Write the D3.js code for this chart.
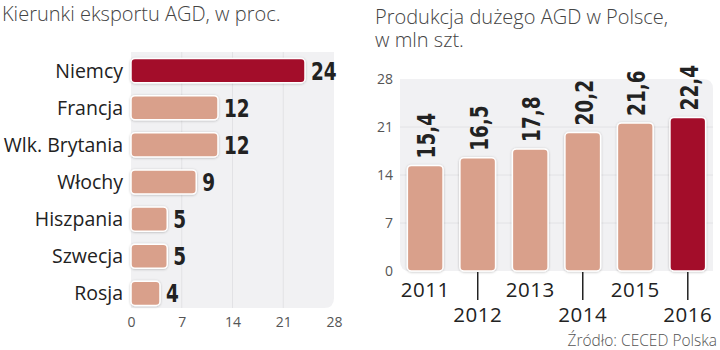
<!DOCTYPE html>
<html><head><meta charset="utf-8">
<script src="https://cdn.jsdelivr.net/npm/d3@7"></script>
<style>
body{margin:0;background:#fff;}
svg{display:block;}
</style></head>
<body>
<svg id="c" width="720" height="350"></svg>
<script>
// ---- data ----
const exportCountries = ["Niemcy","Francja","Wlk. Brytania","Włochy","Hiszpania","Szwecja","Rosja"];
const exportShares = [24,12,12,9,5,5,4];
const exportTicks = [0,7,14,21,28];
const prodYears = ["2011","2012","2013","2014","2015","2016"];
const prodValues = [15.4,16.5,17.8,20.2,21.6,22.4];
const prodLabels = ["15,4","16,5","17,8","20,2","21,6","22,4"];
const prodTicks = [0,7,14,21,28];
const leftTitle = "Kierunki eksportu AGD, w proc.";
const rightTitle = ["Produkcja dużego AGD w Polsce,","w mln szt."];
const sourceText = "Źródło: CECED Polska";

const svg = d3.select("#c");
const RED = "#a30e2b", SAL = "#d9a08b", BG = "#f1f1f3", GRID = "#e2e2e5";
const FONT = "'Open Sans', 'Noto Sans', sans-serif";
const NUMF = "'DejaVu Sans Condensed', 'Liberation Sans Narrow', sans-serif";
const NS = 0.82; // horizontal squeeze for the condensed number font

const defs = svg.append("defs");
const f = defs.append("filter").attr("id","sh").attr("x","-20%").attr("y","-20%").attr("width","140%").attr("height","140%");
f.append("feDropShadow").attr("dx",0).attr("dy",0.5).attr("stdDeviation",1).attr("flood-color","#000").attr("flood-opacity",0.25);

// ---- left chart ----
const x = d3.scaleLinear().domain([0,28]).range([131,334]);
const y = d3.scaleBand().domain(exportCountries).range([52,312]).paddingInner(0.35).paddingOuter(0.175);
const L = svg.append("g");
L.append("text").attr("x",2).attr("y",21).text(leftTitle)
  .attr("font-family",FONT).attr("font-weight",300).attr("font-size",20).attr("fill","#444");
L.append("path").attr("fill",BG)
  .attr("d",`M${x(0)},52 H${x(28)} V${308-10} Q${x(28)},308 ${x(28)-10},308 H${x(0)} Z`);
L.selectAll("line.g").data(exportTicks.slice(1,4)).join("line")
  .attr("x1",d=>x(d)).attr("x2",d=>x(d)).attr("y1",52).attr("y2",308)
  .attr("stroke",GRID).attr("stroke-width",1);
const xAxis = L.append("g").attr("transform","translate(0,308)")
  .call(d3.axisBottom(x).tickValues(exportTicks).tickSize(0).tickPadding(9));
xAxis.select(".domain").remove();
xAxis.selectAll("text").attr("font-family",FONT).attr("font-size",14).attr("fill","#555");
L.selectAll("rect.b").data(exportShares).join("rect")
  .attr("x",x(0)).attr("y",(d,i)=>y(exportCountries[i]))
  .attr("width",d=>x(d)-x(0)).attr("height",y.bandwidth())
  .attr("rx",4).attr("fill",(d,i)=>i===0?RED:SAL)
  .attr("stroke","#fff").attr("stroke-width",1.5).attr("filter","url(#sh)");
L.selectAll("text.c").data(exportCountries).join("text")
  .attr("x",123).attr("y",d=>y(d)+y.bandwidth()/2).attr("dy","0.36em")
  .attr("text-anchor","end").text(d=>d)
  .attr("font-family",FONT).attr("font-size",19.5).attr("fill","#222");
L.selectAll("text.v").data(exportShares).join("text")
  .attr("transform",(d,i)=>`translate(${x(d)+6},${y(exportCountries[i])+y.bandwidth()/2}) scale(${NS},1)`)
  .attr("dy","0.36em")
  .text(d=>d).attr("font-family",NUMF).attr("font-weight",700).attr("font-size",25).attr("fill","#222");

// ---- right chart ----
const yb = d3.scaleLinear().domain([0,28]).range([271,79]);
const xb = d3.scaleBand().domain(prodYears).range([400,713]).paddingInner(0.32).paddingOuter(0.14);
const R = svg.append("g");
R.selectAll("text.t").data(rightTitle).join("text")
  .attr("x",375).attr("y",(d,i)=>24+i*23).text(d=>d)
  .attr("font-family",FONT).attr("font-weight",300).attr("font-size",20).attr("fill","#444");
R.append("path").attr("fill",BG)
  .attr("d",`M400,${yb(28)} H703 Q713,${yb(28)} 713,${yb(28)+10} V${yb(0)} H410 Q400,${yb(0)} 400,${yb(0)-10} Z`);
R.selectAll("line.g").data(prodTicks.slice(1,4)).join("line")
  .attr("x1",400).attr("x2",713).attr("y1",d=>yb(d)).attr("y2",d=>yb(d))
  .attr("stroke",GRID).attr("stroke-width",1);
const yAxis = R.append("g").attr("transform","translate(393,0)")
  .call(d3.axisLeft(yb).tickValues(prodTicks).tickSize(0).tickPadding(0));
yAxis.select(".domain").remove();
yAxis.selectAll("text").attr("font-family",FONT).attr("font-size",14).attr("fill","#555");
R.selectAll("rect.b").data(prodValues).join("rect")
  .attr("x",(d,i)=>xb(prodYears[i])).attr("y",d=>yb(d))
  .attr("width",xb.bandwidth()).attr("height",d=>yb(0)-yb(d))
  .attr("rx",4).attr("fill",(d,i)=>i===prodValues.length-1?RED:SAL)
  .attr("stroke","#fff").attr("stroke-width",1.5).attr("filter","url(#sh)");
R.selectAll("text.v").data(prodValues).join("text")
  .attr("transform",(d,i)=>`translate(${xb(prodYears[i])+xb.bandwidth()/2+1},${yb(d)-7}) rotate(-90) scale(${NS},1)`)
  .attr("dy","0.36em").text((d,i)=>prodLabels[i])
  .attr("font-family",NUMF).attr("font-weight",700).attr("font-size",25).attr("fill","#222");
R.selectAll("line.tk").data(prodYears.filter((d,i)=>i%2===1)).join("line")
  .attr("x1",d=>xb(d)+xb.bandwidth()/2).attr("x2",d=>xb(d)+xb.bandwidth()/2)
  .attr("y1",yb(0)+1).attr("y2",300).attr("stroke","#222").attr("stroke-width",1.5);
R.selectAll("text.yr").data(prodYears).join("text")
  .attr("x",d=>xb(d)+xb.bandwidth()/2).attr("y",(d,i)=>i%2===0?297:322)
  .attr("text-anchor","middle").text(d=>d)
  .attr("font-family",FONT).attr("font-size",20.5).attr("letter-spacing",0.5).attr("fill","#222");
svg.append("text").attr("x",717).attr("y",346).attr("text-anchor","end").text(sourceText)
  .attr("font-family",FONT).attr("font-weight",300).attr("font-size",15.5).attr("fill","#555");
</script>
</body></html>
